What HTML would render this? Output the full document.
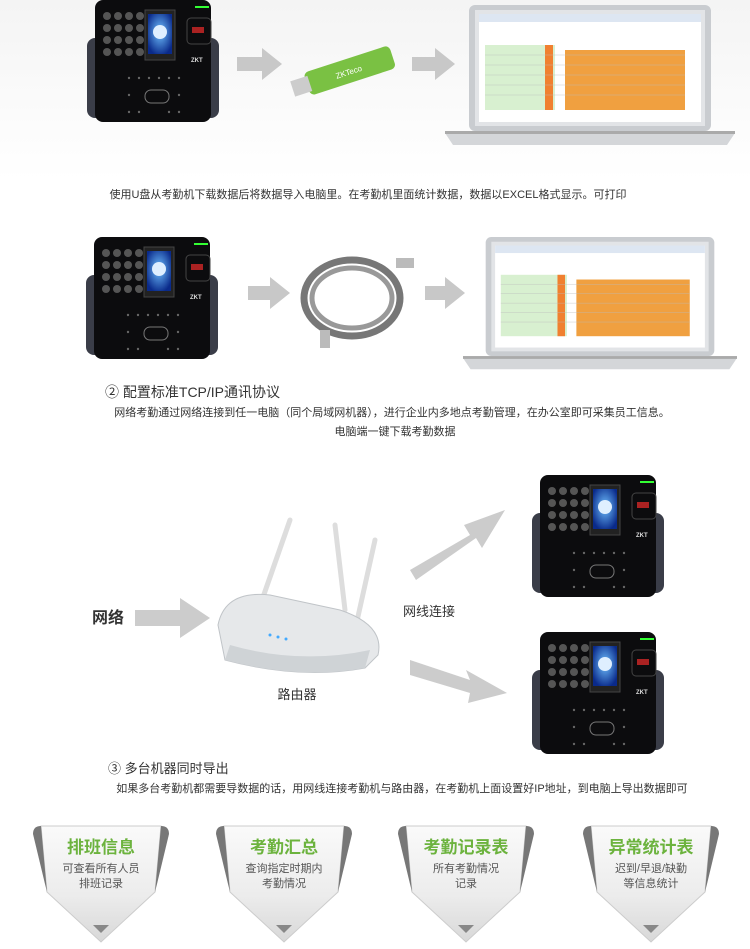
<!DOCTYPE html>
<html><head><meta charset="utf-8"><style>
body{margin:0;background:#fff;}
svg{display:block;font-family:"Liberation Sans","Noto Sans CJK SC",sans-serif;}
</style></head><body>
<svg width="750" height="949" viewBox="0 0 750 949" xmlns="http://www.w3.org/2000/svg">
<defs>
<linearGradient id="bg1" x1="0" y1="0" x2="0" y2="1"><stop offset="0" stop-color="#f4f4f4"/><stop offset="1" stop-color="#fff"/></linearGradient>
<linearGradient id="badge" x1="0" y1="0" x2="0" y2="1"><stop offset="0" stop-color="#fafafa"/><stop offset="0.6" stop-color="#ececec"/><stop offset="1" stop-color="#d8d8d8"/></linearGradient>
<radialGradient id="scr" cx="0.5" cy="0.45" r="0.6"><stop offset="0" stop-color="#6fc0ff"/><stop offset="1" stop-color="#0a2a8a"/></radialGradient>
<symbol id="dev" viewBox="0 0 132 122">
 <rect x="0" y="38" width="132" height="80" rx="8" fill="#3a3d48"/>
 <rect x="8" y="0" width="116" height="122" rx="8" fill="#0c0c0e"/>
 <g fill="#555">
  <circle cx="20" cy="16" r="4"/><circle cx="31" cy="16" r="4"/><circle cx="42" cy="16" r="4"/><circle cx="53" cy="16" r="4"/>
  <circle cx="20" cy="28" r="4"/><circle cx="31" cy="28" r="4"/><circle cx="42" cy="28" r="4"/><circle cx="53" cy="28" r="4"/>
  <circle cx="20" cy="40" r="4"/><circle cx="31" cy="40" r="4"/><circle cx="42" cy="40" r="4"/><circle cx="53" cy="40" r="4"/>
  <circle cx="20" cy="52" r="4"/><circle cx="31" cy="52" r="4"/><circle cx="42" cy="52" r="4"/><circle cx="53" cy="52" r="4"/>
 </g>
 <rect x="58" y="10" width="30" height="50" fill="#222" stroke="#444"/>
 <rect x="61" y="14" width="24" height="40" fill="url(#scr)"/>
 <circle cx="73" cy="32" r="7" fill="#dfefff"/>
 <rect x="108" y="6" width="14" height="2" fill="#3f3"/>
 <rect x="100" y="18" width="24" height="26" rx="4" fill="none" stroke="#444"/>
 <rect x="105" y="27" width="12" height="6" fill="#a22"/>
 <text x="104" y="62" font-size="6" fill="#ddd" font-weight="bold">ZKT</text>
 <g fill="#666"><circle cx="42" cy="78" r="1.2"/><circle cx="52" cy="78" r="1.2"/><circle cx="62" cy="78" r="1.2"/><circle cx="72" cy="78" r="1.2"/><circle cx="82" cy="78" r="1.2"/><circle cx="92" cy="78" r="1.2"/><circle cx="42" cy="112" r="1.2"/><circle cx="52" cy="112" r="1.2"/><circle cx="92" cy="112" r="1.2"/><circle cx="82" cy="112" r="1.2"/><circle cx="42" cy="95" r="1.2"/><circle cx="92" cy="95" r="1.2"/></g>
 <rect x="58" y="90" width="24" height="13" rx="6" fill="none" stroke="#777"/>
</symbol>
<symbol id="lap" viewBox="0 0 290 145">
 <rect x="24" y="0" width="242" height="126" rx="6" fill="#c9ccd0"/>
 <rect x="30" y="5" width="230" height="116" fill="#e2e4e7"/>
 <rect x="34" y="9" width="222" height="108" fill="#fff"/>
 <rect x="34" y="9" width="222" height="8" fill="#dde6f2"/>
 <rect x="120" y="45" width="120" height="60" fill="#f0a040"/>
 <rect x="40" y="40" width="70" height="65" fill="#d8f0d0"/>
 <rect x="100" y="40" width="8" height="65" fill="#f08030"/>
 <g stroke="#bbb" stroke-width="0.4"><line x1="40" y1="50" x2="240" y2="50"/><line x1="40" y1="60" x2="240" y2="60"/><line x1="40" y1="70" x2="240" y2="70"/><line x1="40" y1="80" x2="240" y2="80"/><line x1="40" y1="90" x2="240" y2="90"/></g>
 <path d="M0 128 L290 128 L282 140 L8 140 Z" fill="#d4d6d9"/>
 <rect x="0" y="126" width="290" height="3" fill="#aaa"/>
</symbol>
<symbol id="bdg" viewBox="0 0 140 125">
 <path d="M10 4 L130 4 L124 70 L70 120 L16 70 Z" fill="url(#badge)" stroke="#ccc"/>
 <path d="M10 4 Q2 4 2 12 L14 62 L16 70 Z" fill="#777"/>
 <path d="M130 4 Q138 4 138 12 L126 62 L124 70 Z" fill="#777"/>
 <path d="M62 103 L78 103 L70 111 Z" fill="#888"/>
</symbol>
</defs>
<rect width="750" height="180" fill="url(#bg1)"/>
<use href="#dev" x="87" y="0" width="132" height="122"/>
<path d="M237 57 L262 57 L262 48 L282 64 L262 80 L262 71 L237 71 Z" fill="#c8c8c8"/>
<g transform="rotate(-18 345 72)"><rect x="305" y="60" width="90" height="24" rx="5" fill="#7ac143"/><rect x="290" y="64" width="18" height="16" fill="#ccc"/><text x="335" y="76" font-size="8" fill="#fff">ZKTeco</text></g>
<path d="M412 57 L435 57 L435 48 L455 64 L435 80 L435 71 L412 71 Z" fill="#c8c8c8"/>
<use href="#lap" x="445" y="5" width="290" height="145"/>
<text x="368" y="198" font-size="11" fill="#333" text-anchor="middle">使用U盘从考勤机下载数据后将数据导入电脑里。在考勤机里面统计数据，数据以EXCEL格式显示。可打印</text>

<use href="#dev" x="86" y="237" width="132" height="122"/>
<path d="M248 286 L270 286 L270 277 L290 293 L270 309 L270 300 L248 300 Z" fill="#c8c8c8"/>
<ellipse cx="352" cy="298" rx="48" ry="38" fill="none" stroke="#777" stroke-width="7"/>
<ellipse cx="352" cy="298" rx="40" ry="30" fill="none" stroke="#999" stroke-width="5"/>
<rect x="396" y="258" width="18" height="10" fill="#bbb"/><rect x="320" y="330" width="10" height="18" fill="#bbb"/>
<path d="M425 286 L445 286 L445 277 L465 293 L445 309 L445 300 L425 300 Z" fill="#c8c8c8"/>
<use href="#lap" x="455" y="237" width="290" height="137"/>
<text x="105" y="397" font-size="14" fill="#333">② 配置标准TCP/IP通讯协议</text>
<text x="392" y="416" font-size="11" fill="#333" text-anchor="middle">网络考勤通过网络连接到任一电脑（同个局域网机器），进行企业内多地点考勤管理，在办公室即可采集员工信息。</text>
<text x="395" y="435" font-size="11" fill="#333" text-anchor="middle">电脑端一键下载考勤数据</text>

<text x="92" y="623" font-size="16" font-weight="bold" fill="#333">网络</text>
<path d="M135 610 L180 610 L180 598 L210 618 L180 638 L180 626 L135 626 Z" fill="#ccc"/>
<g stroke="#ddd" stroke-width="5" stroke-linecap="round"><line x1="262" y1="600" x2="290" y2="520"/><line x1="345" y1="610" x2="335" y2="525"/><line x1="355" y1="630" x2="375" y2="540"/></g>
<path d="M218 625 Q225 590 270 595 L340 610 Q385 625 378 655 L365 668 Q300 680 225 660 Z" fill="#e6e8ea" stroke="#c0c4c8"/>
<path d="M230 645 Q300 665 370 650 L365 668 Q300 680 225 660 Z" fill="#cfd3d6"/>
<circle cx="270" cy="635" r="1.5" fill="#4af"/><circle cx="278" cy="637" r="1.5" fill="#4af"/><circle cx="286" cy="639" r="1.5" fill="#4af"/>
<text x="297" y="699" font-size="13" fill="#333" text-anchor="middle">路由器</text>
<text x="403" y="616" font-size="13" fill="#333">网线连接</text>
<path d="M410 570 L470 535 L464 525 L505 510 L482 548 L476 538 L416 580 Z" fill="#ccc"/>
<path d="M410 660 L470 680 L466 670 L507 693 L468 703 L470 693 L410 675 Z" fill="#ccc"/>
<use href="#dev" x="530" y="475" width="136" height="122"/>
<use href="#dev" x="530" y="632" width="136" height="122"/>
<text x="108" y="773" font-size="13" fill="#333">③ 多台机器同时导出</text>
<text x="402" y="792" font-size="11" fill="#333" text-anchor="middle">如果多台考勤机都需要导数据的话，用网线连接考勤机与路由器，在考勤机上面设置好IP地址，到电脑上导出数据即可</text>

<g font-size="11" fill="#555" text-anchor="middle">
<use href="#bdg" x="31" y="822" width="140" height="125"/>
<text x="101" y="853" font-size="17" font-weight="bold" fill="#6cb33e">排班信息</text>
<text x="101" y="872">可查看所有人员</text><text x="101" y="887">排班记录</text>
<use href="#bdg" x="214" y="822" width="140" height="125"/>
<text x="284" y="853" font-size="17" font-weight="bold" fill="#6cb33e">考勤汇总</text>
<text x="284" y="872">查询指定时期内</text><text x="284" y="887">考勤情况</text>
<use href="#bdg" x="396" y="822" width="140" height="125"/>
<text x="466" y="853" font-size="17" font-weight="bold" fill="#6cb33e">考勤记录表</text>
<text x="466" y="872">所有考勤情况</text><text x="466" y="887">记录</text>
<use href="#bdg" x="581" y="822" width="140" height="125"/>
<text x="651" y="853" font-size="17" font-weight="bold" fill="#6cb33e">异常统计表</text>
<text x="651" y="872">迟到/早退/缺勤</text><text x="651" y="887">等信息统计</text>
</g>
</svg>
</body></html>
